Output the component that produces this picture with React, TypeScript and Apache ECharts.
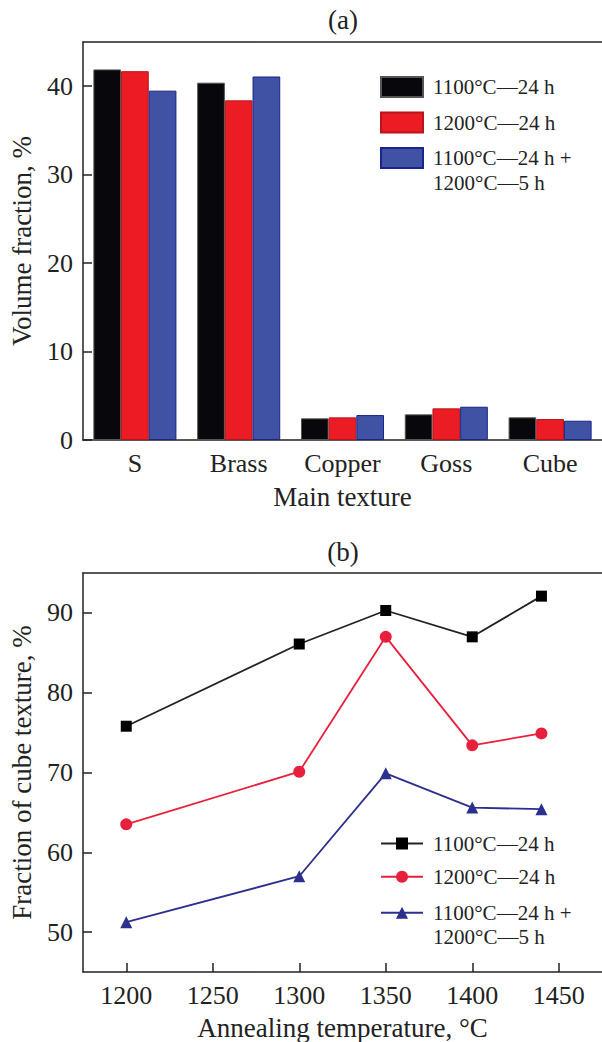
import React, { useEffect, useRef } from "react";
import * as echarts from "echarts";

const textureCategories = ["S", "Brass", "Copper", "Goss", "Cube"];
const seriesNames = ["1100°C—24 h", "1200°C—24 h", "1100°C—24 h +\n1200°C—5 h"];
const barBlack = [41.9, 40.4, 2.45, 2.9, 2.56];
const barRed = [41.7, 38.4, 2.56, 3.58, 2.37];
const barBlue = [39.5, 41.1, 2.82, 3.76, 2.18];

const temperatures = [1200, 1300, 1350, 1400, 1440];
const lineBlack = [75.8, 86.1, 90.3, 87.0, 92.1];
const lineRed = [63.5, 70.1, 87.0, 73.4, 74.9];
const lineBlue = [51.25, 57.0, 69.9, 65.6, 65.4];

const FONT = "'Liberation Serif', 'Times New Roman', serif";
const INK = "#222";

export default function App() {
  const ref = useRef<HTMLDivElement>(null);
  useEffect(() => {
    document.body.style.margin = "0";
    if (!ref.current) return;
    const chart = echarts.init(ref.current, undefined, { renderer: "svg" });
    const pairs = (ys: number[]) => temperatures.map((t, i) => [t, ys[i]]);
    const axisCommon = {
      axisLine: { show: true, lineStyle: { color: INK, width: 1.5 } },
      axisTick: { show: true, inside: true, length: 9, lineStyle: { color: INK, width: 1.5 } },
      splitLine: { show: false },
      axisLabel: { color: INK, fontFamily: FONT, fontSize: 26, margin: 10 },
      nameTextStyle: { color: INK, fontFamily: FONT, fontSize: 27 },
    };
    const topFrame = (gridIndex: number) => ({
      gridIndex, type: "value", position: "top", min: 0, max: 1,
      axisLine: { show: true, onZero: false, lineStyle: { color: INK, width: 1.5 } },
      axisTick: { show: false }, axisLabel: { show: false }, splitLine: { show: false },
    });
    const legendText = { color: INK, fontFamily: FONT, fontSize: 21, lineHeight: 25, padding: [0, 0, 0, 5] };
    const legendTextB = { ...legendText, lineHeight: 24 };
    const option: any = {
      animation: false,
      graphic: [
        { type: "text", x: 343, y: 20, style: { text: "(a)", font: `27px ${FONT}`, fill: INK, align: "center", verticalAlign: "middle" } },
        { type: "text", x: 343, y: 552, style: { text: "(b)", font: `27px ${FONT}`, fill: INK, align: "center", verticalAlign: "middle" } },
      ],
      grid: [
        { left: 83, top: 42, width: 521, height: 398, containLabel: false },
        { left: 83, top: 573, width: 522, height: 399, containLabel: false },
      ],
      legend: [
        {
          orient: "vertical", left: 380, top: 74.5, padding: 0, itemGap: 10.5, itemWidth: 42, itemHeight: 20, icon: "rect",
          data: [{ name: seriesNames[0] }, { name: seriesNames[1] }], textStyle: legendText, selectedMode: false,
        },
        {
          orient: "vertical", left: 380, top: 120.5, padding: 0, itemWidth: 42, itemHeight: 20, icon: "rect",
          data: [{ name: seriesNames[2] }], textStyle: legendText, selectedMode: false,
          formatter: (n: string) => "\n" + n,
        },
        {
          orient: "vertical", left: 380, top: 831.5, padding: 0, itemGap: 9.3, itemWidth: 42, itemHeight: 15,
          data: [{ name: "b0" }, { name: "b1" }], textStyle: legendTextB, selectedMode: false,
          formatter: (n: string) => (n === "b0" ? seriesNames[0] : seriesNames[1]),
        },
        {
          orient: "vertical", left: 380, top: 876.7, padding: 0, itemWidth: 42, itemHeight: 15,
          data: [{ name: "b2" }], textStyle: legendTextB, selectedMode: false,
          formatter: () => "\n" + seriesNames[2],
        },
      ],
      xAxis: [
        {
          ...axisCommon, gridIndex: 0, type: "category", data: textureCategories,
          axisTick: { show: false },
          name: "Main texture", nameLocation: "middle", nameGap: 43,
        },
        {
          ...axisCommon, gridIndex: 1, type: "value", min: 1175, max: 1475,
          axisLabel: { ...axisCommon.axisLabel, showMinLabel: false, showMaxLabel: false, formatter: (v: number) => String(v) },
          name: "Annealing temperature, °C", nameLocation: "middle", nameGap: 42,
        },
        topFrame(0),
        topFrame(1),
      ],
      yAxis: [
        {
          ...axisCommon, gridIndex: 0, type: "value", min: 0, max: 45, interval: 10,
          axisLabel: { ...axisCommon.axisLabel, showMaxLabel: false },
          name: "Volume fraction, %", nameLocation: "middle", nameGap: 48,
        },
        {
          ...axisCommon, gridIndex: 1, type: "value", min: 45, max: 95,
          axisLabel: { ...axisCommon.axisLabel, showMinLabel: false, showMaxLabel: false },
          name: "Fraction of cube texture, %", nameLocation: "middle", nameGap: 48,
        },
      ],
      series: [
        {
          name: seriesNames[0], type: "bar", xAxisIndex: 0, yAxisIndex: 0, data: barBlack,
          barGap: "0%", barCategoryGap: "20%",
          itemStyle: { color: "#07070c", borderColor: "#555", borderWidth: 1 },
        },
        {
          name: seriesNames[1], type: "bar", xAxisIndex: 0, yAxisIndex: 0, data: barRed,
          barGap: "0%", barCategoryGap: "20%",
          itemStyle: { color: "#ec1c24", borderColor: "#b8141c", borderWidth: 1 },
        },
        {
          name: seriesNames[2], type: "bar", xAxisIndex: 0, yAxisIndex: 0, data: barBlue,
          barGap: "0%", barCategoryGap: "20%",
          itemStyle: { color: "#3f52a4", borderColor: "#1c238a", borderWidth: 1 },
        },
        {
          name: "b0", type: "line", xAxisIndex: 1, yAxisIndex: 1, data: pairs(lineBlack),
          symbol: "rect", symbolSize: 11,
          lineStyle: { color: "#222", width: 1.8 }, itemStyle: { color: "#000" },
        },
        {
          name: "b1", type: "line", xAxisIndex: 1, yAxisIndex: 1, data: pairs(lineRed),
          symbol: "circle", symbolSize: 12,
          lineStyle: { color: "#e8203c", width: 1.8 }, itemStyle: { color: "#e8203c" },
        },
        {
          name: "b2", type: "line", xAxisIndex: 1, yAxisIndex: 1, data: pairs(lineBlue),
          symbol: "triangle", symbolSize: 12,
          lineStyle: { color: "#2b2f8e", width: 1.8 }, itemStyle: { color: "#2b2f8e" },
        },
      ],
    };
    chart.setOption(option);
    return () => chart.dispose();
  }, []);
  return <div ref={ref} style={{ width: 602, height: 1042 }} />;
}
